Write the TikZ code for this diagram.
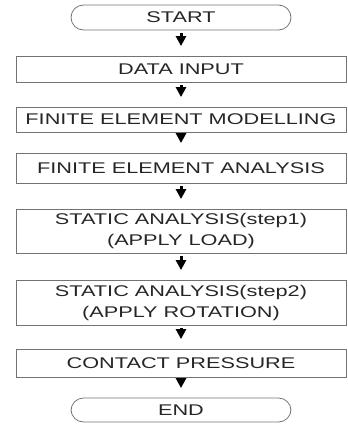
\documentclass[tikz,border=0pt]{standalone}
\usepackage{fontspec}
\newfontfamily\flowfont[FakeStretch=1.4]{Liberation Sans}
\usetikzlibrary{arrows.meta}
\begin{document}
\begin{tikzpicture}[x=1pt,y=-1pt,
  box/.style={draw=black!55, line width=0.8pt, minimum width=330pt, inner sep=0pt,
    text=black!85, font=\flowfont\fontsize{15.5}{21}\selectfont, align=center},
  term/.style={box, minimum width=220pt, minimum height=25pt, rounded corners=12.5pt},
  flow/.style={line width=3pt, black, -{Triangle[width=10pt,length=10pt]},
    shorten <=3pt, shorten >=9.5pt}]
\useasboundingbox (0,0) rectangle (348,426);
\node[term] (start) at (181,17.5) {START};
\node[box, minimum height=26pt] (data) at (181,69) {DATA INPUT};
\node[box, minimum height=25pt] (fem) at (181,119.5) {FINITE ELEMENT MODELLING};
\node[box, minimum height=30pt] (fea) at (181,168) {FINITE ELEMENT ANALYSIS};
\node[box, minimum height=44pt] (s1) at (181,231) {STATIC ANALYSIS(step1)\\(APPLY LOAD)};
\node[box, minimum height=45pt] (s2) at (181,302.5) {STATIC ANALYSIS(step2)\\(APPLY ROTATION)};
\node[box, minimum height=28pt] (cp) at (181,363) {CONTACT PRESSURE};
\node[term, minimum height=24pt] (end) at (181,410) {END};
\draw[flow] (start) -- (data);
\draw[flow] (data) -- (fem);
\draw[flow] (fem) -- (fea);
\draw[flow] (fea) -- (s1);
\draw[flow] (s1) -- (s2);
\draw[flow] (s2) -- (cp);
\draw[flow] (cp) -- (end);
\end{tikzpicture}
\end{document}
